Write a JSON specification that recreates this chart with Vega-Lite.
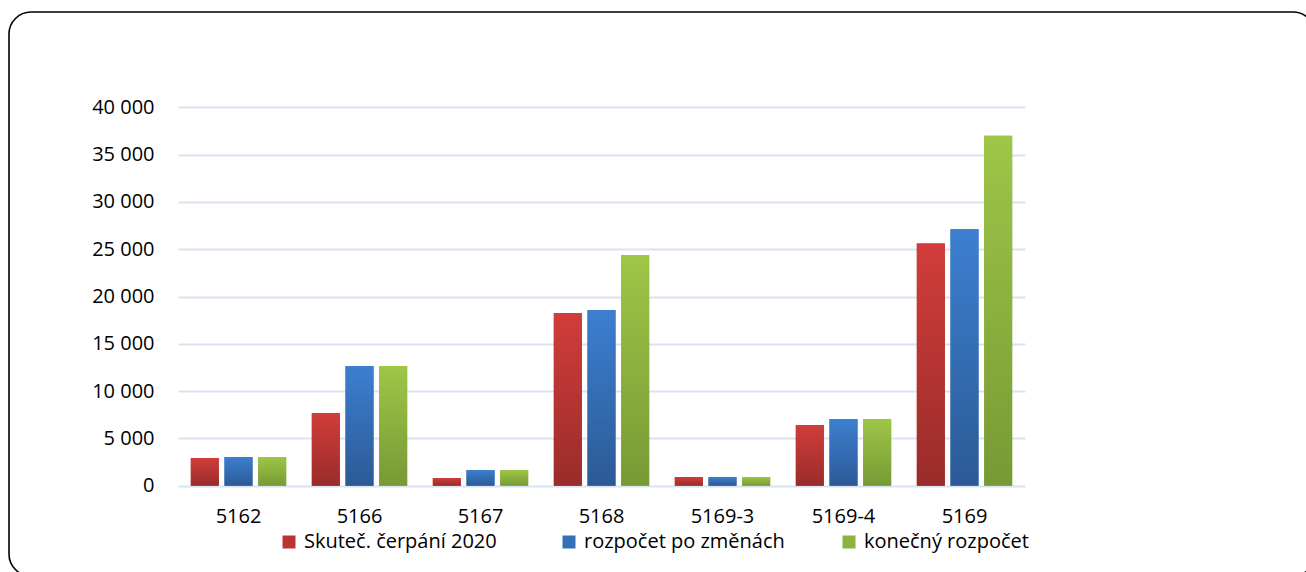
{
  "$schema": "https://vega.github.io/schema/vega-lite/v6.json",
  "width": 1306,
  "height": 564,
  "autosize": {"type": "none"},
  "padding": {"left": 9, "top": 12, "right": -9, "bottom": -4},
  "background": "#ffffff",
  "config": {
    "view": {"stroke": "#000000", "strokeWidth": 1.6, "cornerRadius": 22},
    "font": "Open Sans"
  },
  "data": {
    "values": [
      {"kod": "5162", "serie": "Skuteč. čerpání  2020", "hodnota": 2930},
      {"kod": "5162", "serie": "rozpočet po změnách", "hodnota": 3030},
      {"kod": "5162", "serie": "konečný rozpočet", "hodnota": 3030},
      {"kod": "5166", "serie": "Skuteč. čerpání  2020", "hodnota": 7690},
      {"kod": "5166", "serie": "rozpočet po změnách", "hodnota": 12660},
      {"kod": "5166", "serie": "konečný rozpočet", "hodnota": 12660},
      {"kod": "5167", "serie": "Skuteč. čerpání  2020", "hodnota": 810},
      {"kod": "5167", "serie": "rozpočet po změnách", "hodnota": 1660},
      {"kod": "5167", "serie": "konečný rozpočet", "hodnota": 1660},
      {"kod": "5168", "serie": "Skuteč. čerpání  2020", "hodnota": 18250},
      {"kod": "5168", "serie": "rozpočet po změnách", "hodnota": 18570},
      {"kod": "5168", "serie": "konečný rozpočet", "hodnota": 24400},
      {"kod": "5169-3", "serie": "Skuteč. čerpání  2020", "hodnota": 920},
      {"kod": "5169-3", "serie": "rozpočet po změnách", "hodnota": 920},
      {"kod": "5169-3", "serie": "konečný rozpočet", "hodnota": 920},
      {"kod": "5169-4", "serie": "Skuteč. čerpání  2020", "hodnota": 6420},
      {"kod": "5169-4", "serie": "rozpočet po změnách", "hodnota": 7050},
      {"kod": "5169-4", "serie": "konečný rozpočet", "hodnota": 7050},
      {"kod": "5169", "serie": "Skuteč. čerpání  2020", "hodnota": 25600},
      {"kod": "5169", "serie": "rozpočet po změnách", "hodnota": 27100},
      {"kod": "5169", "serie": "konečný rozpočet", "hodnota": 36980}
    ]
  },
  "encoding": {
    "x": {
      "field": "kod",
      "type": "nominal",
      "title": null,
      "scale": {
        "domain": ["5162", "5166", "5167", "5168", "5169-3", "5169-4", "5169"],
        "range": [169, 1016],
        "paddingInner": 0.165,
        "paddingOuter": 0.0825
      },
      "axis": {
        "orient": "bottom",
        "offset": -90.3,
        "domain": false,
        "ticks": false,
        "tickSize": 0,
        "grid": false,
        "labelAngle": 0,
        "labelPadding": 21,
        "labelFont": "Open Sans",
        "labelFontSize": 20,
        "labelColor": "#000000"
      }
    },
    "xOffset": {
      "field": "serie",
      "type": "nominal",
      "scale": {
        "domain": ["Skuteč. čerpání  2020", "rozpočet po změnách", "konečný rozpočet"],
        "paddingInner": 0.168,
        "paddingOuter": 0.084
      }
    },
    "y": {
      "field": "hodnota",
      "type": "quantitative",
      "title": null,
      "scale": {"domain": [0, 40000], "range": [473.7, 95.3], "nice": false, "zero": true},
      "axis": {
        "orient": "left",
        "offset": -169,
        "domain": false,
        "ticks": false,
        "tickSize": 0,
        "grid": true,
        "gridColor": "#d9e4f2",
        "gridWidth": 2,
        "values": [0, 5000, 10000, 15000, 20000, 25000, 30000, 35000, 40000],
        "labelExpr": "replace(format(datum.value, ','), ',', ' ')",
        "labelPadding": 24,
        "labelFont": "Open Sans",
        "labelFontSize": 20,
        "labelColor": "#000000"
      }
    }
  },
  "layer": [
    {
      "mark": {"type": "bar"},
      "encoding": {
        "color": {
          "field": "serie",
          "type": "nominal",
          "scale": {
            "domain": ["Skuteč. čerpání  2020", "rozpočet po změnách", "konečný rozpočet"],
            "range": ["#b83533", "#3470b8", "#8cb33f"]
          },
          "legend": {
            "title": null,
            "orient": "none",
            "legendX": 270,
            "legendY": 520,
            "direction": "horizontal",
            "columns": 3,
            "gridAlign": "all",
            "columnPadding": 54,
            "padding": 0,
            "symbolType": "square",
            "symbolSize": 169,
            "symbolStrokeWidth": 0,
            "labelFont": "Open Sans",
            "labelFontSize": 20,
            "labelColor": "#000000",
            "labelOffset": 5,
            "labelLimit": 400
          }
        }
      }
    },
    {
      "transform": [{"filter": "datum.serie === 'Skuteč. čerpání  2020'"}],
      "mark": {
        "type": "bar",
        "color": {
          "gradient": "linear", "x1": 0, "y1": 0, "x2": 0, "y2": 1,
          "stops": [{"offset": 0, "color": "#d13d3a"}, {"offset": 1, "color": "#992c2a"}]
        }
      }
    },
    {
      "transform": [{"filter": "datum.serie === 'rozpočet po změnách'"}],
      "mark": {
        "type": "bar",
        "color": {
          "gradient": "linear", "x1": 0, "y1": 0, "x2": 0, "y2": 1,
          "stops": [{"offset": 0, "color": "#3c7fd0"}, {"offset": 1, "color": "#2c5a96"}]
        }
      }
    },
    {
      "transform": [{"filter": "datum.serie === 'konečný rozpočet'"}],
      "mark": {
        "type": "bar",
        "color": {
          "gradient": "linear", "x1": 0, "y1": 0, "x2": 0, "y2": 1,
          "stops": [{"offset": 0, "color": "#9ec647"}, {"offset": 1, "color": "#779a35"}]
        }
      }
    }
  ]
}
